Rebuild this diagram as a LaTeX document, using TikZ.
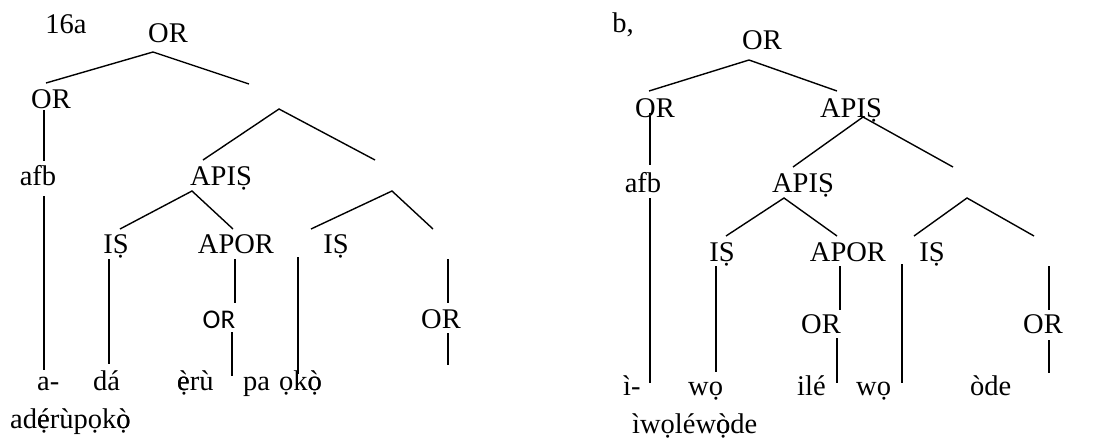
\documentclass[tikz,border=0pt]{standalone}
\usepackage{fontspec}
\setmainfont{Liberation Serif}
\newfontfamily\carl{Carlito}
\newcommand\stk[2]{\ooalign{#1\cr#2}}
\begin{document}
\begin{tikzpicture}[x=1pt,y=-1pt,
  lab/.style={anchor=base,inner sep=0pt,font=\fontsize{28.5}{30}\selectfont},
  sanslab/.style={anchor=base,inner sep=0pt,font=\carl\fontsize{27}{30}\selectfont},
  br/.style={line width=1.4pt}]
\useasboundingbox (0,0) rectangle (1108,440);
% ---------- tree a ----------
\node[lab] (a16) at (66,33) {16a};
\node[lab] (aOR) at (168,42) {OR};
\node[lab] (aOR2) at (51,108) {OR};
\node[lab] (aafb) at (38,185) {afb};
\node[lab] (aAPIS) at (221,185) {APIṢ};
\node[lab] (aIS1) at (116,253) {IṢ};
\node[lab] (aAPOR) at (236,253) {APOR};
\node[lab] (aIS2) at (336,253) {IṢ};
\node[sanslab] (aORs) at (219,328) {OR};
\node[lab] (aORr) at (441,328) {OR};
\node[lab,anchor=base west] (wa1) at (37,390) {a-};
\node[lab,anchor=base west] (wa2) at (93,390) {dá};
\node[lab,anchor=base west] (wa3) at (177,390) {\stk{ẹ}{è}rù};
\node[lab,anchor=base west] (wa4) at (243,390) {pa};
\node[lab,anchor=base west] (wa5) at (279,390) {ọk\stk{ọ}{ò}};
\node[lab,anchor=base west] (wa6) at (10,428) {ad\stk{ẹ}{é}rùpọk\stk{ọ}{ò}};
% coordinates a
\coordinate (a1) at (153,52);
\coordinate (a1l) at (46,83);
\coordinate (a1r) at (249,84);
\coordinate (a2) at (279,109);
\coordinate (a2l) at (203,160);
\coordinate (a2r) at (375,160);
\coordinate (a3) at (192,191);
\coordinate (a3l) at (120,229);
\coordinate (a3r) at (233,229);
\coordinate (a4) at (392,191);
\coordinate (a4l) at (311,229);
\coordinate (a4r) at (433,229);
\draw[br] (a1l) -- (a1) -- (a1r);
\draw[br] (a2l) -- (a2) -- (a2r);
\draw[br] (a3l) -- (a3) -- (a3r);
\draw[br] (a4l) -- (a4) -- (a4r);
\coordinate (v1t) at (44,110); \coordinate (v1b) at (44,161);
\coordinate (v2t) at (44,196); \coordinate (v2b) at (44,370);
\coordinate (v3t) at (109,259); \coordinate (v3b) at (109,364);
\coordinate (v4t) at (235,259); \coordinate (v4b) at (235,303);
\coordinate (v5t) at (232,332); \coordinate (v5b) at (232,376);
\coordinate (v6t) at (298,257); \coordinate (v6b) at (298,374);
\coordinate (v7t) at (448,259); \coordinate (v7b) at (448,303);
\coordinate (v8t) at (448,333); \coordinate (v8b) at (448,365);
\foreach \i in {1,...,8} {\draw[br] (v\i t) -- (v\i b);}
% ---------- tree b ----------
\node[lab] (b0) at (623,32) {b,};
\node[lab] (bOR) at (762,49) {OR};
\node[lab] (bOR2) at (655,117) {OR};
\node[lab] (bAPIS1) at (851,117) {APIṢ};
\node[lab] (bafb) at (643,192) {afb};
\node[lab] (bAPIS2) at (803,192) {APIṢ};
\node[lab] (bIS1) at (722,261) {IṢ};
\node[lab] (bAPOR) at (848,261) {APOR};
\node[lab] (bIS2) at (932,261) {IṢ};
\node[lab] (bORm) at (821,333) {OR};
\node[lab] (bORr) at (1043,333) {OR};
\node[lab,anchor=base west] (wb1) at (623,395) {ì-};
\node[lab,anchor=base west] (wb2) at (688,395) {wọ};
\node[lab,anchor=base west] (wb3) at (797,395) {ilé};
\node[lab,anchor=base west] (wb4) at (856,395) {wọ};
\node[lab,anchor=base west] (wb5) at (970,395) {òde};
\node[lab,anchor=base west] (wb6) at (632,433) {ìwọléw\stk{ọ}{ò}de};
\coordinate (b1) at (749,60);
\coordinate (b1l) at (649,91);
\coordinate (b1r) at (837,91);
\coordinate (b2) at (863,117);
\coordinate (b2l) at (793,167);
\coordinate (b2r) at (953,167);
\coordinate (b3) at (784,198);
\coordinate (b3l) at (726,236);
\coordinate (b3r) at (837,236);
\coordinate (b4) at (967,198);
\coordinate (b4l) at (914,236);
\coordinate (b4r) at (1034,236);
\draw[br] (b1l) -- (b1) -- (b1r);
\draw[br] (b2l) -- (b2) -- (b2r);
\draw[br] (b3l) -- (b3) -- (b3r);
\draw[br] (b4l) -- (b4) -- (b4r);
\coordinate (u1t) at (650,113); \coordinate (u1b) at (650,165);
\coordinate (u2t) at (650,198); \coordinate (u2b) at (650,383);
\coordinate (u3t) at (716,266); \coordinate (u3b) at (716,372);
\coordinate (u4t) at (840,266); \coordinate (u4b) at (840,310);
\coordinate (u5t) at (837,338); \coordinate (u5b) at (837,383);
\coordinate (u6t) at (902,264); \coordinate (u6b) at (902,383);
\coordinate (u7t) at (1049,266); \coordinate (u7b) at (1049,310);
\coordinate (u8t) at (1049,340); \coordinate (u8b) at (1049,373);
\foreach \i in {1,...,8} {\draw[br] (u\i t) -- (u\i b);}
\end{tikzpicture}
\end{document}
